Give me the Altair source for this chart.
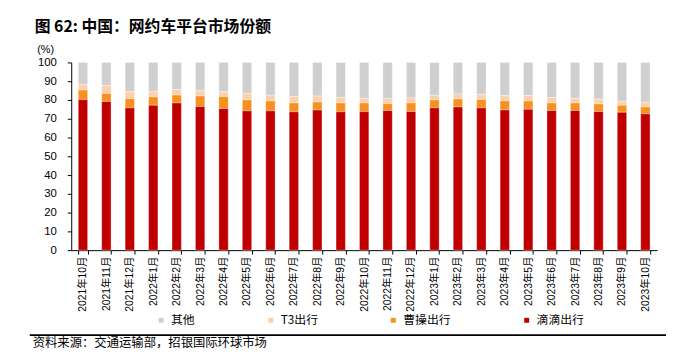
import altair as alt
import pandas as pd

months = ["2021年10月", "2021年11月", "2021年12月",
          "2022年1月", "2022年2月", "2022年3月", "2022年4月", "2022年5月", "2022年6月",
          "2022年7月", "2022年8月", "2022年9月", "2022年10月", "2022年11月", "2022年12月",
          "2023年1月", "2023年2月", "2023年3月", "2023年4月", "2023年5月", "2023年6月",
          "2023年7月", "2023年8月", "2023年9月", "2023年10月"]

didi = [80.2, 79.2, 75.8, 77.2, 78.4, 76.5, 75.5, 74.2, 74.2, 73.7, 74.6, 73.7, 73.8,
        74.4, 73.9, 75.8, 76.3, 75.8, 74.7, 75.1, 74.4, 74.4, 73.9, 73.5, 72.6]
caocao = [5.1, 4.3, 4.9, 4.4, 4.2, 5.6, 6.3, 5.8, 5.3, 4.7, 4.3, 4.7, 4.6,
          3.7, 4.5, 4.2, 4.2, 4.4, 4.8, 4.4, 4.0, 4.0, 4.0, 3.7, 3.7]
t3 = [3.0, 4.1, 3.7, 3.0, 3.0, 3.0, 2.6, 3.5, 3.0, 3.5, 3.2, 2.9, 2.5,
      2.6, 2.7, 2.5, 2.7, 2.8, 2.8, 2.8, 2.9, 2.5, 2.5, 2.1, 2.5]
other = [11.7, 12.4, 15.6, 15.4, 14.4, 14.9, 15.6, 16.5, 17.5, 18.1, 17.9, 18.7, 19.1,
         19.3, 18.9, 17.5, 16.8, 17.0, 17.7, 17.7, 18.7, 19.1, 19.6, 20.7, 21.2]

series_names = ["其他", "T3出行", "曹操出行", "滴滴出行"]
series_values = [other, t3, caocao, didi]
series_order = [3, 2, 1, 0]
series_colors = ["#cfcfcf", "#fbd0ad", "#f7901e", "#c00000"]

rows = []
for name, vals, o in zip(series_names, series_values, series_order):
    for m, v in zip(months, vals):
        rows.append({"month": m, "series": name, "value": v, "o": o})
df = pd.DataFrame(rows)

LATIN = "Arial, 'Liberation Sans', 'Noto Sans CJK SC'"
CJK = "'Noto Sans CJK SC'"

bars = alt.Chart(df).mark_bar(stroke="white", strokeWidth=1, strokeOpacity=0.35).encode(
    x=alt.X("month:N", sort=months,
            scale=alt.Scale(paddingInner=0.6, paddingOuter=0.3),
            axis=alt.Axis(title=None, labelAngle=-90, labelFontSize=10.5, labelFont=LATIN,
                          labelColor="black", tickColor="black", domainColor="black",
                          tickSize=4, tickBand="extent", labelPadding=2)),
    y=alt.Y("value:Q", stack="zero",
            scale=alt.Scale(domain=[0, 100], nice=False),
            axis=alt.Axis(values=list(range(0, 101, 10)), grid=False, title="(%)",
                          titleAngle=0, titleAlign="left", titleBaseline="middle",
                          titleX=-35, titleY=-13, titleFontSize=11, titleFontWeight="normal",
                          titleFont=LATIN, titleColor="black",
                          labelFontSize=11.5, labelFont=LATIN, labelColor="black",
                          tickColor="black", domainColor="black", tickSize=4,
                          labelPadding=11)),
    color=alt.Color("series:N",
                    scale=alt.Scale(domain=series_names, range=series_colors),
                    legend=alt.Legend(title=None, orient="none", direction="horizontal",
                                      columns=4, legendX=85, legendY=255,
                                      symbolType="square", symbolSize=25,
                                      symbolStrokeWidth=0, columnPadding=70,
                                      labelFontSize=12, labelFont=CJK, labelColor="black",
                                      labelOffset=4)),
    order=alt.Order("o:Q", sort="ascending"),
)

one = pd.DataFrame({"a": [0]})

title = alt.Chart(one).mark_text(align="left", baseline="middle", fontSize=16,
                                 fontWeight="bold", font=CJK, color="black").encode(
    x=alt.value(-37), y=alt.value(-36), text=alt.value("图 62: 中国：网约车平台市场份额"))

rule = alt.Chart(one).mark_rule(color="black", strokeWidth=2).encode(
    x=alt.value(-42), x2=alt.value(602), y=alt.value(276))

source = alt.Chart(one).mark_text(align="left", baseline="middle", fontSize=12.5,
                                  font=CJK, color="black").encode(
    x=alt.value(-39), y=alt.value(284.5), text=alt.value("资料来源：交通运输部，招银国际环球市场"))

chart = alt.layer(bars, title, rule, source).properties(
    width=593, height=190,
    padding={"left": 64, "top": 53, "right": 9, "bottom": 102},
    autosize=alt.AutoSizeParams(type="none"),
).configure_view(stroke=None)

chart.save("out.html", embed_options={"renderer": "svg", "actions": False})
